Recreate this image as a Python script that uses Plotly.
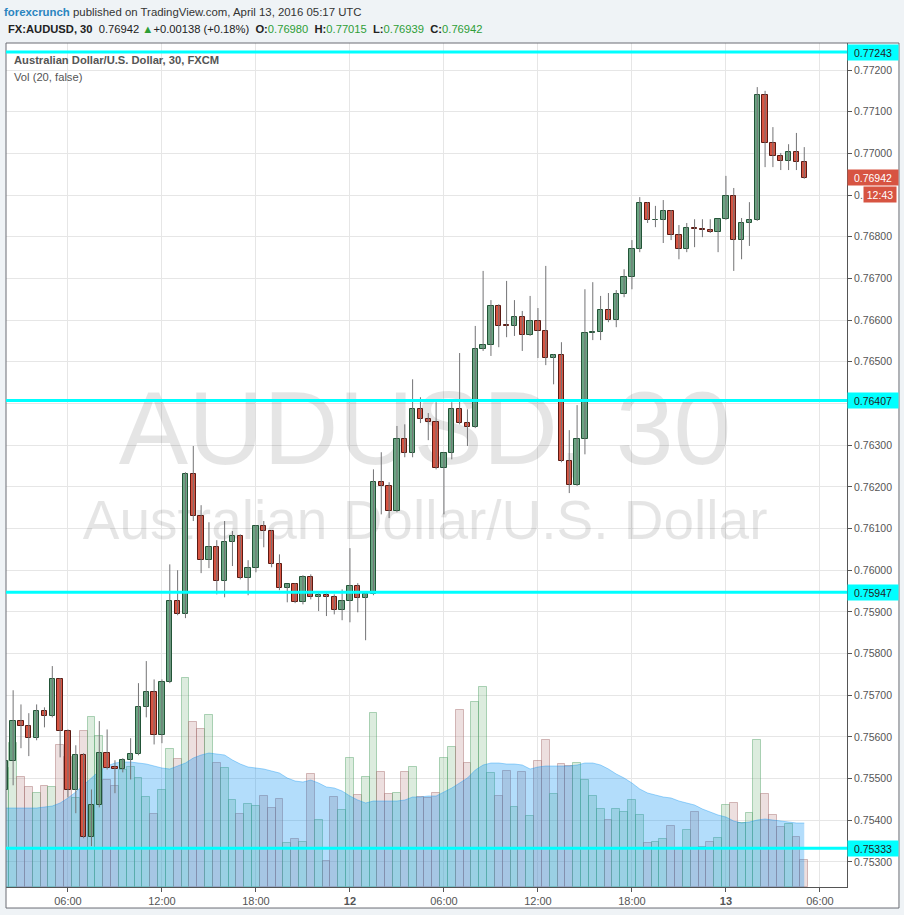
import plotly.graph_objects as go
import pandas as pd

# 30-minute bars, FXCM AUD/USD, 11 Apr 02:00 -> 13 Apr 05:00 (UTC)
times = pd.date_range("2016-04-11 02:00", periods=103, freq="30min")

opens = [
    0.75472, 0.75542, 0.75638, 0.75626, 0.75597, 0.75662, 0.75650, 0.75738, 0.75614, 0.75472,
    0.75556, 0.75359, 0.75436, 0.75561, 0.75527, 0.75522, 0.75544, 0.75558, 0.75671, 0.75707,
    0.75604, 0.75731, 0.75926, 0.75894, 0.76230, 0.76130, 0.76024, 0.76055, 0.75974, 0.76067,
    0.76082, 0.75981, 0.76005, 0.76106, 0.76094, 0.76014, 0.75957, 0.75966, 0.75923, 0.75983,
    0.75935, 0.75940, 0.75936, 0.75904, 0.75926, 0.75962, 0.75933, 0.75942, 0.76211, 0.76202,
    0.76142, 0.76314, 0.76281, 0.76386, 0.76362, 0.76355, 0.76245, 0.76281, 0.76386, 0.76353,
    0.76343, 0.76530, 0.76540, 0.76634, 0.76588, 0.76586, 0.76607, 0.76564, 0.76598, 0.76574,
    0.76509, 0.76516, 0.76262, 0.76204, 0.76314, 0.76569, 0.76571, 0.76624, 0.76600, 0.76662,
    0.76703, 0.76770, 0.76881, 0.76840, 0.76841, 0.76862, 0.76804, 0.76770, 0.76821, 0.76818,
    0.76816, 0.76811, 0.76842, 0.76898, 0.76792, 0.76833, 0.76840, 0.77140, 0.77025, 0.76994,
    0.76982, 0.77003, 0.76980,
]
highs = [
    0.75556, 0.75712, 0.75678, 0.75657, 0.75678, 0.75671, 0.75770, 0.75741, 0.75618, 0.75580,
    0.75561, 0.75474, 0.75638, 0.75618, 0.75544, 0.75549, 0.75597, 0.75729, 0.75782, 0.75738,
    0.75738, 0.76014, 0.76000, 0.76235, 0.76298, 0.76156, 0.76115, 0.76072, 0.76118, 0.76094,
    0.76086, 0.76024, 0.76108, 0.76118, 0.76096, 0.76038, 0.75966, 0.75969, 0.75988, 0.75990,
    0.75947, 0.75947, 0.75942, 0.75954, 0.76053, 0.75969, 0.75945, 0.76242, 0.76283, 0.76211,
    0.76346, 0.76350, 0.76458, 0.76415, 0.76377, 0.76403, 0.76283, 0.76403, 0.76521, 0.76386,
    0.76586, 0.76718, 0.76648, 0.76638, 0.76694, 0.76648, 0.76622, 0.76658, 0.76629, 0.76730,
    0.76518, 0.76547, 0.76336, 0.76396, 0.76674, 0.76691, 0.76658, 0.76665, 0.76672, 0.76722,
    0.76792, 0.76895, 0.76883, 0.76874, 0.76888, 0.76864, 0.76828, 0.76833, 0.76842, 0.76842,
    0.76842, 0.76843, 0.76946, 0.76917, 0.76845, 0.76883, 0.77159, 0.77150, 0.77063, 0.77001,
    0.77022, 0.77049, 0.77015,
]
lows = [
    0.75460, 0.75484, 0.75573, 0.75554, 0.75592, 0.75623, 0.75647, 0.75551, 0.75455, 0.75417,
    0.75357, 0.75338, 0.75431, 0.75522, 0.75465, 0.75515, 0.75498, 0.75556, 0.75647, 0.75582,
    0.75585, 0.75729, 0.75892, 0.75885, 0.76118, 0.75993, 0.76005, 0.75942, 0.75935, 0.76010,
    0.75978, 0.75940, 0.75995, 0.76055, 0.76007, 0.75952, 0.75923, 0.75921, 0.75918, 0.75930,
    0.75902, 0.75890, 0.75894, 0.75880, 0.75875, 0.75899, 0.75832, 0.75940, 0.76134, 0.76125,
    0.76139, 0.76271, 0.76271, 0.76353, 0.76312, 0.76242, 0.76134, 0.76266, 0.76350, 0.76298,
    0.76341, 0.76526, 0.76514, 0.76535, 0.76559, 0.76562, 0.76526, 0.76562, 0.76509, 0.76492,
    0.76446, 0.76259, 0.76185, 0.76202, 0.76278, 0.76552, 0.76552, 0.76595, 0.76583, 0.76655,
    0.76674, 0.76763, 0.76833, 0.76823, 0.76785, 0.76792, 0.76746, 0.76763, 0.76775, 0.76799,
    0.76809, 0.76763, 0.76840, 0.76718, 0.76746, 0.76778, 0.76838, 0.76967, 0.76967, 0.76960,
    0.76960, 0.76960, 0.76939,
]
closes = [
    0.75542, 0.75638, 0.75626, 0.75597, 0.75662, 0.75650, 0.75738, 0.75614, 0.75472, 0.75556,
    0.75359, 0.75436, 0.75561, 0.75525, 0.75522, 0.75544, 0.75558, 0.75671, 0.75707, 0.75604,
    0.75731, 0.75926, 0.75894, 0.76230, 0.76130, 0.76024, 0.76055, 0.75974, 0.76067, 0.76082,
    0.75981, 0.76005, 0.76106, 0.76094, 0.76014, 0.75957, 0.75966, 0.75923, 0.75983, 0.75935,
    0.75940, 0.75936, 0.75904, 0.75926, 0.75962, 0.75933, 0.75942, 0.76211, 0.76202, 0.76142,
    0.76314, 0.76281, 0.76386, 0.76362, 0.76355, 0.76245, 0.76281, 0.76386, 0.76353, 0.76343,
    0.76530, 0.76540, 0.76634, 0.76586, 0.76586, 0.76607, 0.76564, 0.76598, 0.76574, 0.76509,
    0.76516, 0.76262, 0.76204, 0.76314, 0.76569, 0.76571, 0.76624, 0.76600, 0.76662, 0.76703,
    0.76770, 0.76881, 0.76840, 0.76841, 0.76862, 0.76804, 0.76770, 0.76821, 0.76818, 0.76816,
    0.76811, 0.76842, 0.76898, 0.76792, 0.76833, 0.76840, 0.77140, 0.77025, 0.76994, 0.76982,
    0.77003, 0.76980, 0.76942,
]
volumes = [
    1190, 1440, 1100, 1000, 940, 1010, 1000, 1420, 1300, 890,
    1560, 1700, 1510, 1070, 1010, 1170, 1200, 1090, 900, 730,
    970, 1380, 1280, 2090, 1650, 1580, 1720, 1240, 1190, 870,
    730, 830, 810, 910, 790, 880, 440, 480, 450, 1130,
    670, 260, 900, 770, 1290, 920, 1100, 1740, 1150, 930,
    940, 1150, 1200, 900, 890, 940, 1290, 1400, 1770, 1240,
    1850, 2000, 1140, 910, 1160, 800, 1150, 710, 1260, 1470,
    930, 1230, 1210, 1240, 1070, 910, 780, 670, 780, 750,
    870, 720, 440, 450, 480, 610, 380, 570, 750, 400,
    450, 490, 820, 840, 640, 740, 1470, 930, 720, 600,
    630, 500, 270,
]
# Vol (20) moving average as drawn by the indicator
vol_ma = [
    790, 790, 790, 790, 790, 800, 810, 840, 890, 950,
    1020, 1100, 1160, 1210, 1240, 1250, 1250, 1240, 1230, 1210,
    1190, 1180, 1210, 1240, 1290, 1320, 1340, 1330, 1320, 1270,
    1230, 1200, 1190, 1180, 1160, 1140, 1090, 1060, 1050, 1070,
    1040, 1000, 990, 960, 910, 870, 840, 860, 860, 860,
    860, 870, 900, 900, 910, 910, 950, 990, 1040, 1090,
    1170, 1220, 1240, 1240, 1230, 1230, 1220, 1180, 1200, 1210,
    1210, 1210, 1210, 1220, 1240, 1240, 1220, 1180, 1130, 1090,
    1040, 980, 940, 920, 900, 890, 860, 840, 820, 780,
    750, 720, 700, 660, 640, 650, 670, 680, 670, 660,
    650, 640, 640,
]

levels = [0.77243, 0.76407, 0.75947, 0.75333]
last_price = 0.76942

# price scale labels as they show on the right (0.76400 sits under a level tag,
# 0.76900 is mostly hidden behind the bar countdown)
price_ticks = [0.753, 0.754, 0.755, 0.756, 0.757, 0.758, 0.759, 0.760, 0.761, 0.762,
               0.763, 0.764, 0.765, 0.766, 0.767, 0.768, 0.769, 0.770, 0.771, 0.772]
price_text = ["0.75300", "0.75400", "0.75500", "0.75600", "0.75700", "0.75800", "0.75900",
              "0.76000", "0.76100", "0.76200", "0.76300", "", "0.76500", "0.76600", "0.76700",
              "0.76800", "0.", "0.77000", "0.77100", "0.77200"]

tick_times = ["2016-04-11 06:00", "2016-04-11 12:00", "2016-04-11 18:00", "2016-04-12 00:00",
              "2016-04-12 06:00", "2016-04-12 12:00", "2016-04-12 18:00", "2016-04-13 00:00",
              "2016-04-13 06:00"]
tick_text = ["06:00", "12:00", "18:00", "<b>12</b>", "06:00", "12:00", "18:00", "<b>13</b>", "06:00"]

UP, UP_EDGE = "#6ba583", "#225437"
DOWN, DOWN_EDGE = "#d75442", "#5b1a13"
FONT = "Liberation Sans, Arial, sans-serif"
HALF_HOUR = 30 * 60 * 1000

up = [c >= o for o, c in zip(opens, closes)]

fig = go.Figure()

# watermark (behind everything)
fig.add_trace(go.Scatter(
    x=["2016-04-12 04:48", "2016-04-12 04:48"], y=[4490, 3620],
    mode="text", text=["AUDUSD, 30", "Australian Dollar/U.S. Dollar"],
    textfont=dict(family=FONT, size=[104, 55], color="rgba(0,0,0,0.1)"),
    hoverinfo="skip", yaxis="y"))

# volume
fig.add_trace(go.Bar(
    x=times, y=volumes, width=HALF_HOUR, yaxis="y",
    marker=dict(color=["rgba(138,192,145,0.3)" if u else "rgba(195,148,148,0.3)" for u in up],
                line=dict(color=["rgba(83,161,105,0.45)" if u else "rgba(165,109,109,0.45)" for u in up],
                          width=1)),
    hoverinfo="skip"))
fig.add_trace(go.Scatter(
    x=times, y=vol_ma, yaxis="y", mode="lines", fill="tozeroy",
    line=dict(color="rgba(2,142,242,0.35)", width=1), fillcolor="rgba(2,142,242,0.3)",
    hoverinfo="skip"))

# wicks
wx, wy = [], []
for t, h, l in zip(times, highs, lows):
    wx += [t, t, None]
    wy += [l, h, None]
fig.add_trace(go.Scatter(x=wx, y=wy, mode="lines", line=dict(color="#737375", width=1),
                         yaxis="y2", hoverinfo="skip"))

# bodies
for flag, fill, edge in [(True, UP, UP_EDGE), (False, DOWN, DOWN_EDGE)]:
    idx = [i for i in range(len(times)) if up[i] == flag]
    fig.add_trace(go.Bar(
        x=[times[i] for i in idx],
        y=[abs(closes[i] - opens[i]) for i in idx],
        base=[min(opens[i], closes[i]) for i in idx],
        width=HALF_HOUR * 0.68, yaxis="y2",
        marker=dict(color=fill, line=dict(color=edge, width=1))))

shapes = [
    dict(type="rect", xref="paper", yref="paper", x0=0, x1=1.0618, y0=-0.0249, y1=1,
         fillcolor="white", line=dict(width=0), layer="below"),
    dict(type="rect", xref="paper", yref="paper", x0=0, x1=1.0618, y0=-0.0249, y1=1,
         line=dict(color="#6a6d74", width=1), layer="above"),
]
for lv in levels:
    shapes.append(dict(type="line", xref="paper", x0=0, x1=1, yref="y2", y0=lv, y1=lv,
                       line=dict(color="#00ffff", width=3), layer="above"))

annotations = [
    dict(xref="paper", yref="paper", x=0, y=1, xshift=-4, yshift=31, xanchor="left", yanchor="middle",
         showarrow=False, font=dict(family=FONT, size=11.4, color="#333"),
         text='<span style="color:#2a85c0"><b>forexcrunch</b></span> published on TradingView.com, '
              'April 13, 2016 05:17 UTC'),
    dict(xref="paper", yref="paper", x=0, y=1, xshift=0, yshift=14, xanchor="left", yanchor="middle",
         showarrow=False, font=dict(family=FONT, size=11.2, color="#222"),
         text='<b>FX:AUDUSD, 30</b>\u00a0 0.76942 <span style="color:#2e9e36">▲</span>+0.00138 (+0.18%)\u00a0 '
              '<b>O:</b><span style="color:#2e9e36">0.76980</span>\u00a0 '
              '<b>H:</b><span style="color:#2e9e36">0.77015</span>\u00a0 '
              '<b>L:</b><span style="color:#2e9e36">0.76939</span>\u00a0 '
              '<b>C:</b><span style="color:#2e9e36">0.76942</span>'),
    dict(xref="paper", yref="paper", x=0, y=1, xshift=6, yshift=-17, xanchor="left", yanchor="middle",
         showarrow=False, font=dict(family=FONT, size=11.2, color="#555"),
         text="<b>Australian Dollar/U.S. Dollar, 30, FXCM</b>"),
    dict(xref="paper", yref="paper", x=0, y=1, xshift=6, yshift=-34, xanchor="left", yanchor="middle",
         showarrow=False, font=dict(family=FONT, size=11.2, color="#555"),
         text="Vol (20, false)"),
]
for lv in levels:
    annotations.append(dict(xref="paper", x=1, xanchor="left", yref="y2", y=lv, yanchor="middle",
                            showarrow=False, text=f"{lv:.5f}", bgcolor="#00ffff", width=48, height=13,
                            borderpad=1, font=dict(family=FONT, size=10.5, color="#222")))
annotations.append(dict(xref="paper", x=1, xanchor="left", yref="y2", y=last_price, yanchor="middle",
                        showarrow=False, text=f"{last_price:.5f}", bgcolor=DOWN, width=48, height=13,
                        borderpad=1, font=dict(family=FONT, size=10.5, color="white")))
annotations.append(dict(xref="paper", x=1, xanchor="left", xshift=16, yref="y2", y=last_price,
                        yshift=-17, yanchor="middle", showarrow=False, text="12:43", bgcolor=DOWN,
                        width=30, height=13, borderpad=1, font=dict(family=FONT, size=10.5, color="white")))

fig.update_layout(
    width=904, height=915,
    margin=dict(l=6, r=57, t=43, b=28),
    paper_bgcolor="#eff3f6", plot_bgcolor="white",
    showlegend=False, barmode="overlay", bargap=0,
    font=dict(family=FONT, size=11, color="#555"),
    xaxis=dict(type="date", range=["2016-04-11 02:02:41", "2016-04-13 07:43:43"],
               tickvals=tick_times, ticktext=tick_text, showgrid=True, gridcolor="#e6e6e6",
               ticks="outside", ticklen=4, tickcolor="#555", showline=True, linecolor="#555",
               tickfont=dict(size=11, color="#555"), zeroline=False, rangeslider=dict(visible=False)),
    yaxis=dict(range=[0, 8440], visible=False, showgrid=False, zeroline=False),
    yaxis2=dict(overlaying="y", side="right", range=[0.752400, 0.772648],
                tickvals=price_ticks, ticktext=price_text, showgrid=True, gridcolor="#e6e6e6",
                zeroline=False, ticks="outside", ticklen=4, tickcolor="#555", showline=True,
                linecolor="#555", tickfont=dict(size=10.5, color="#555")),
    shapes=shapes, annotations=annotations,
)

# the page would otherwise add the browser's default 8px body margin
fig.write_html("out.html", config={"displayModeBar": False},
               post_script="document.body.style.margin='0px';")
